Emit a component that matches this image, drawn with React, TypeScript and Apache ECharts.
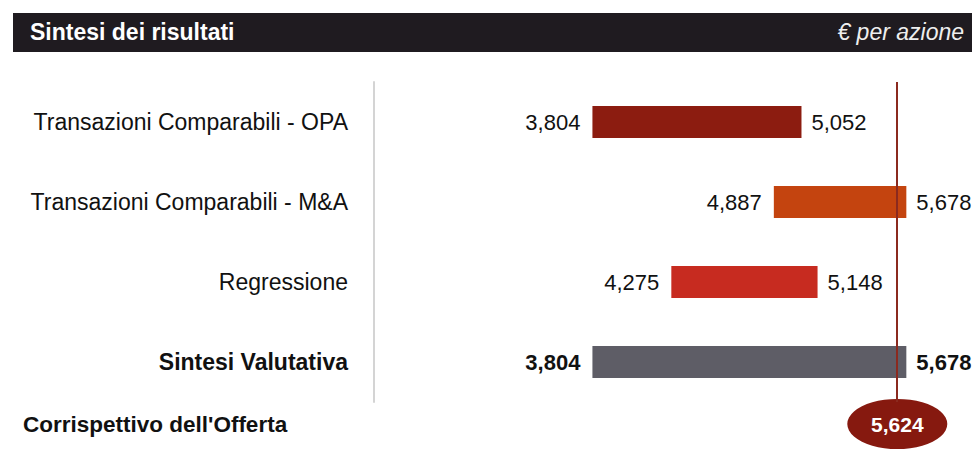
import React, { useEffect, useRef } from "react";
import * as echarts from "echarts";

const categories = [
  "Transazioni Comparabili - OPA",
  "Transazioni Comparabili - M&A",
  "Regressione",
  "Sintesi Valutativa",
];
const lowValues = [3.804, 4.887, 4.275, 3.804];
const highValues = [5.052, 5.678, 5.148, 5.678];
const emphasized = [false, false, false, true];
const barColors = ["#8c1c10", "#c4440f", "#c72b20", "#5e5d66"];
const offerLabel = "Corrispettivo dell'Offerta";
const offerValue = 5.624;
const titleText = "Sintesi dei risultati";
const unitText = "€ per azione";
const xMin = 2.5;
const xMax = 6.07;

const FONT = "'Liberation Sans', Arial, Helvetica, sans-serif";
const fmt = (v: number) => v.toFixed(3).replace(".", ",");

export default function App() {
  const ref = useRef<HTMLDivElement>(null);
  useEffect(() => {
    if (!ref.current) return;
    const chart = echarts.init(ref.current, undefined, { renderer: "svg" });
    chart.setOption({
      animation: false,
      backgroundColor: "#ffffff",
      textStyle: { fontFamily: FONT },
      graphic: [
        {
          type: "rect",
          z: -10,
          shape: { x: 13, y: 13, width: 959, height: 39 },
          style: { fill: "#1f1b20" },
          silent: true,
        },
      ],
      title: [
        {
          text: titleText,
          left: 30,
          top: 20,
          padding: 0,
          textStyle: { color: "#ffffff", fontSize: 23, fontWeight: "bold", fontFamily: FONT },
        },
        {
          text: unitText,
          right: 8,
          top: 20,
          padding: 0,
          textStyle: { color: "#eeeeee", fontSize: 23, fontStyle: "italic", fontWeight: "normal", fontFamily: FONT },
        },
      ],
      grid: [
        { left: 374, right: 0, top: 82, height: 320, containLabel: false },
        { left: 374, right: 0, top: 399, height: 50, containLabel: false },
      ],
      xAxis: [
        { type: "value", gridIndex: 0, min: xMin, max: xMax, show: false },
        { type: "value", gridIndex: 1, min: xMin, max: xMax, show: false },
      ],
      yAxis: [
        {
          type: "category",
          gridIndex: 0,
          inverse: true,
          data: categories.map((c, i) => ({
            value: c,
            textStyle: { fontWeight: emphasized[i] ? "bold" : "normal" },
          })),
          axisLine: { show: true, lineStyle: { color: "#d4d4d4", width: 2 } },
          axisTick: { show: false },
          splitLine: { show: false },
          axisLabel: { margin: 26, color: "#111111", fontSize: 23, fontFamily: FONT },
        },
        {
          type: "category",
          gridIndex: 1,
          data: [offerLabel],
          axisLine: { show: false },
          axisTick: { show: false },
          splitLine: { show: false },
          axisLabel: {
            margin: 351,
            align: "left",
            color: "#111111",
            fontSize: 22.5,
            fontWeight: "bold",
            fontFamily: FONT,
          },
        },
      ],
      series: [
        {
          type: "bar",
          xAxisIndex: 0,
          yAxisIndex: 0,
          stack: "range",
          barWidth: 32,
          silent: true,
          itemStyle: { color: "rgba(0,0,0,0)" },
          label: {
            show: true,
            position: "insideRight",
            distance: 12,
            color: "#111111",
            fontSize: 22,
            fontFamily: FONT,
            formatter: (p: any) => fmt(lowValues[p.dataIndex]),
          },
          data: lowValues.map((v, i) => ({
            value: v,
            label: { fontWeight: emphasized[i] ? "bold" : "normal" },
          })),
        },
        {
          type: "bar",
          xAxisIndex: 0,
          yAxisIndex: 0,
          stack: "range",
          barWidth: 32,
          silent: true,
          label: {
            show: true,
            position: "right",
            distance: 10,
            color: "#111111",
            fontSize: 22,
            fontFamily: FONT,
            formatter: (p: any) => fmt(highValues[p.dataIndex]),
          },
          data: highValues.map((v, i) => ({
            value: v - lowValues[i],
            itemStyle: { color: barColors[i] },
            label: { fontWeight: emphasized[i] ? "bold" : "normal" },
          })),
          markLine: {
            silent: true,
            symbol: "none",
            label: { show: false },
            lineStyle: { color: "#8b2a1f", width: 2, type: "solid" },
            data: [{ xAxis: offerValue }],
          },
        },
        {
          type: "scatter",
          xAxisIndex: 1,
          yAxisIndex: 1,
          clip: false,
          silent: true,
          symbol: "circle",
          symbolSize: [100, 50],
          itemStyle: { color: "#86190f", opacity: 1 },
          label: {
            show: true,
            position: "inside",
            color: "#ffffff",
            fontSize: 21,
            fontWeight: "bold",
            fontFamily: FONT,
            formatter: () => fmt(offerValue),
          },
          data: [[offerValue, offerLabel]],
        },
      ],
    });
    return () => chart.dispose();
  }, []);
  return (
    <div
      ref={ref}
      style={{ position: "absolute", left: 0, top: 0, width: 972, height: 454 }}
    />
  );
}
